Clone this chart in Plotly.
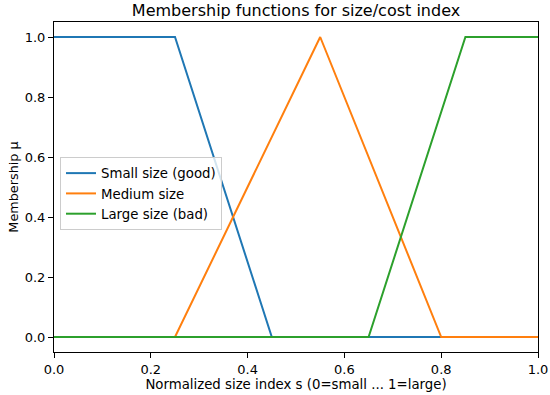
import plotly.graph_objects as go

small_x = [0.0, 0.25, 0.45, 1.0]
small_y = [1.0, 1.0, 0.0, 0.0]
medium_x = [0.0, 0.25, 0.55, 0.8, 1.0]
medium_y = [0.0, 0.0, 1.0, 0.0, 0.0]
large_x = [0.0, 0.65, 0.85, 1.0]
large_y = [0.0, 0.0, 1.0, 1.0]
names = ["Small size (good)", "Medium size", "Large size (bad)"]
colors = ["#1f77b4", "#ff7f0e", "#2ca02c"]
x_ticks = [0.0, 0.2, 0.4, 0.6, 0.8, 1.0]
y_ticks = [0.0, 0.2, 0.4, 0.6, 0.8, 1.0]

fig = go.Figure()
for xs, ys, n, c in zip([small_x, medium_x, large_x], [small_y, medium_y, large_y], names, colors):
    fig.add_trace(go.Scatter(x=xs, y=ys, mode="lines", name=n, line=dict(color=c, width=2)))

font = "DejaVu Sans"
fig.update_layout(
    width=550, height=395,
    margin=dict(l=54, r=12, t=22, b=43),
    paper_bgcolor="white", plot_bgcolor="white",
    font=dict(family=font, size=13, color="black"),
    title=dict(text="Membership functions for size/cost index", x=(296) / 550, xanchor="center",
               y=1 - 10.5 / 395, yanchor="middle", font=dict(size=16, family=font)),
    legend=dict(x=0.0124, y=0.591, xanchor="left", yanchor="top", bgcolor="rgba(255,255,255,0.8)",
                bordercolor="#cccccc", borderwidth=1, font=dict(size=13.3, family=font),
                itemwidth=30, tracegroupgap=0),
    showlegend=True,
)
fig.update_xaxes(range=[0, 1], tickvals=x_ticks, ticktext=[f"{v:.1f}" for v in x_ticks],
                 showgrid=False, zeroline=False, showline=True, linecolor="black", linewidth=1,
                 mirror=True, ticks="outside", ticklen=5, tickcolor="black", automargin=False,
                 title=dict(text="Normalized size index s (0=small ... 1=large)", standoff=4,
                            font=dict(size=13.3, family=font)))
fig.update_yaxes(range=[-0.05, 1.05], tickvals=y_ticks, ticktext=[f"{v:.1f}" for v in y_ticks],
                 showgrid=False, zeroline=False, showline=True, linecolor="black", linewidth=1,
                 mirror=True, ticks="outside", ticklen=5, tickcolor="black", automargin=False,
                 title=dict(text="Membership μ", standoff=3, font=dict(size=12.8, family=font)))
fig.write_html("out.html", config={"displayModeBar": False},
               post_script="document.body.style.margin='0px';")
